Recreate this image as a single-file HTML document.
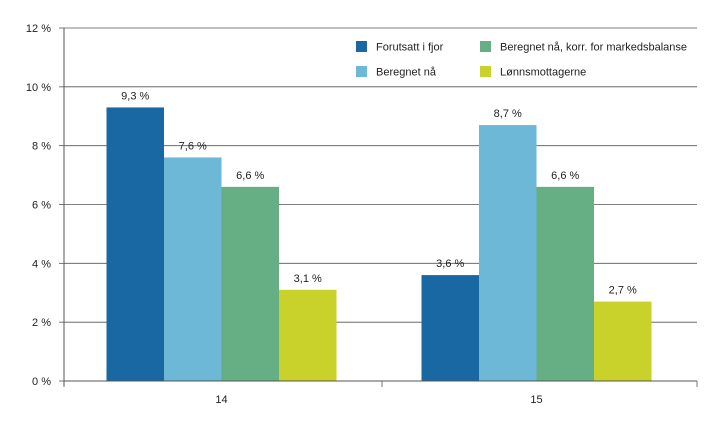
<!DOCTYPE html>
<html><head><meta charset="utf-8"><style>
body{margin:0;background:#fff;}
svg text{font-family:"Liberation Sans",sans-serif;fill:#222;}
</style></head><body>
<svg id="chart" width="719" height="425" xmlns="http://www.w3.org/2000/svg"></svg>
<script>
const categories = ["14","15"];
const seriesNames = ["Forutsatt i fjor","Beregnet nå","Beregnet nå, korr. for markedsbalanse","Lønnsmottagerne"];
const forutsatt = [9.3, 3.6];
const beregnet = [7.6, 8.7];
const korrigert = [6.6, 6.6];
const lonnsmottagere = [3.1, 2.7];
const valueLabels = [["9,3 %","3,6 %"],["7,6 %","8,7 %"],["6,6 %","6,6 %"],["3,1 %","2,7 %"]];
const yTicks = [0,2,4,6,8,10,12];
const yTickLabels = ["0 %","2 %","4 %","6 %","8 %","10 %","12 %"];
const colors = ["#1a68a3","#6cb8d6","#66ae84","#c9d22a"];
const series = [forutsatt, beregnet, korrigert, lonnsmottagere];

const svg = document.getElementById('chart');
const NS = "http://www.w3.org/2000/svg";
const x0 = 64, x1 = 694, yTop = 28, yBot = 381;
const yScale = v => yBot - (v/12)*(yBot-yTop);
const catW = (x1-x0)/categories.length;
const barW = 57.5;
function mk(tag, attrs){const e=document.createElementNS(NS,tag);for(const k in attrs)e.setAttribute(k,attrs[k]);svg.appendChild(e);return e;}

yTicks.forEach((t,i)=>{
  const y = yScale(t);
  if(t>0){const g=mk('line',{x1:x0,x2:697,y1:y,y2:y,stroke:'#555','stroke-width':0.8});
  
  }
  const tk=mk('line',{x1:x0-5,x2:x0,y1:y,y2:y,stroke:'#555','stroke-width':0.8});
  
  
  const tx=mk('text',{x:x0-13,y:y+4,'text-anchor':'end','font-size':11});
  tx.textContent=yTickLabels[i];
  
  
});

series.forEach((vals,s)=>{
  vals.forEach((v,c)=>{
    const bx = x0 + c*catW + (catW-4*barW)/2 + s*barW;
    const r=mk('rect',{x:bx,y:yScale(v),width:barW,height:yBot-yScale(v),fill:colors[s]});
    
    
    const t=mk('text',{x:bx+barW/2,y:yScale(v)-8,'text-anchor':'middle','font-size':11});
    t.textContent=valueLabels[s][c];
    
    
  });
});

const ax=mk('line',{x1:x0,x2:697,y1:yBot,y2:yBot,stroke:'#555','stroke-width':1});


const ay=mk('line',{x1:x0,x2:x0,y1:yTop,y2:yBot+5,stroke:'#555','stroke-width':1});


const xtickPos=[x0, 382, 697];
xtickPos.forEach(xt=>{
  const l=mk('line',{x1:xt,x2:xt,y1:yBot,y2:yBot+6,stroke:'#555','stroke-width':0.8});
  
  
});
categories.forEach((c,i)=>{
  const t=mk('text',{x:x0+(i+0.5)*catW,y:yBot+22,'text-anchor':'middle','font-size':11});
  t.textContent=c;
  
  
});

const legPos=[[356,46],[356,71],[480,46],[480,71]];
seriesNames.forEach((n,i)=>{
  const [lx,ly]=legPos[i];
  const r=mk('rect',{x:lx,y:ly-5,width:11,height:11,fill:colors[i]});
  
  
  const t=mk('text',{x:lx+20,y:ly+4.5,'font-size':11,'textLength':(i==2?187:null)});
  if(i!=2) t.removeAttribute('textLength');
  t.textContent=n;
  
  
});
</script>
</body></html>
